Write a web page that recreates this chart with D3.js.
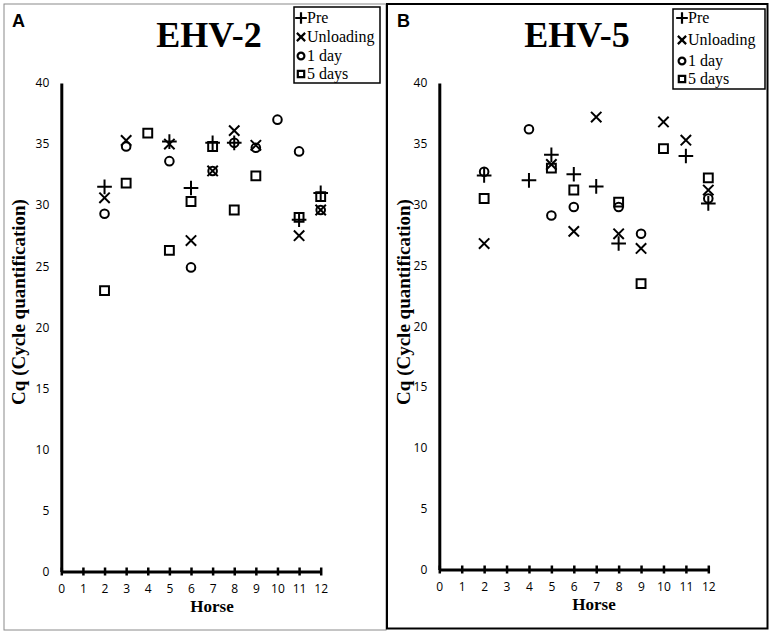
<!DOCTYPE html>
<html>
<head>
<meta charset="utf-8">
<script src="https://cdn.jsdelivr.net/npm/d3@7"></script>
<style>
  body { margin: 0; background: #fff; }
  svg { display: block; }
</style>
</head>
<body>
<svg id="chart"></svg>
<script>
let w = 772
let h = 635

let seriesNames = ['Pre', 'Unloading', '1 day', '5 days']
let xTicks = [0, 1, 2, 3, 4, 5, 6, 7, 8, 9, 10, 11, 12]
let yTicks = [0, 5, 10, 15, 20, 25, 30, 35, 40]

// EHV-2 : horse number + Cq value per time point
let ehv2PreHorse = [2, 5, 6, 7, 8, 11, 12]
let ehv2PreCq = [31.5, 35.2, 31.4, 35.1, 35.1, 28.8, 31.0]
let ehv2UnlHorse = [2, 3, 5, 6, 7, 8, 9, 11, 12]
let ehv2UnlCq = [30.6, 35.3, 35.0, 27.1, 32.8, 36.1, 34.9, 27.5, 29.6]
let ehv2Day1Horse = [2, 3, 5, 6, 7, 8, 9, 10, 11, 12]
let ehv2Day1Cq = [29.3, 34.8, 33.6, 24.9, 32.8, 35.1, 34.7, 37.0, 34.4, 29.6]
let ehv2Day5Horse = [2, 3, 4, 5, 6, 7, 8, 9, 11, 12]
let ehv2Day5Cq = [23.0, 31.8, 35.9, 26.3, 30.3, 34.8, 29.6, 32.4, 29.0, 30.7]

// EHV-5
let ehv5PreHorse = [2, 4, 5, 6, 7, 8, 11, 12]
let ehv5PreCq = [32.4, 32.0, 34.1, 32.5, 31.5, 26.8, 34.0, 30.1]
let ehv5UnlHorse = [2, 5, 6, 7, 8, 9, 10, 11, 12]
let ehv5UnlCq = [26.8, 33.3, 27.8, 37.2, 27.6, 26.4, 36.8, 35.3, 31.2]
let ehv5Day1Horse = [2, 4, 5, 6, 8, 9, 12]
let ehv5Day1Cq = [32.7, 36.2, 29.1, 29.8, 29.8, 27.6, 30.5]
let ehv5Day5Horse = [2, 5, 6, 8, 9, 10, 12]
let ehv5Day5Cq = [30.5, 33.0, 31.2, 30.2, 23.5, 34.6, 32.2]

let symbols = [d3.symbolPlus, d3.symbolTimes, d3.symbolCircle, d3.symbolSquare2]
let markSizes = [72, 72, 58, 100]
let legendSizes = [46, 46, 36, 52]

let zip = (xs, ys) => xs.map((x, i) => ({ horse: x, cq: ys[i] }))

let panels = [
  {
    letter: 'A', title: 'EHV-2',
    frame: { x: 4, y: 4, w: 382, h: 626, color: '#8a8a8a', sw: 1 },
    x0: 61.3, x1: 320.7, yTop: 83, yBottom: 571.5,
    titleX: 209, letterX: 12, yLabelX: 25, yLabelY: 302, horseX: 212,
    legend: { x: 294, y: 7, w: 86, h: 76, rows: [23, 42, 61, 79], symX: 301, textX: 307 },
    series: [zip(ehv2PreHorse, ehv2PreCq), zip(ehv2UnlHorse, ehv2UnlCq),
             zip(ehv2Day1Horse, ehv2Day1Cq), zip(ehv2Day5Horse, ehv2Day5Cq)]
  },
  {
    letter: 'B', title: 'EHV-5',
    frame: { x: 387, y: 4, w: 380.5, h: 624.5, color: '#000', sw: 2 },
    x0: 439.3, x1: 708.3, yTop: 83, yBottom: 569.5,
    titleX: 577, letterX: 397, yLabelX: 410, yLabelY: 302, horseX: 594,
    legend: { x: 673, y: 9, w: 92, h: 80, rows: [23, 45, 66, 84], symX: 682, textX: 688 },
    series: [zip(ehv5PreHorse, ehv5PreCq), zip(ehv5UnlHorse, ehv5UnlCq),
             zip(ehv5Day1Horse, ehv5Day1Cq), zip(ehv5Day5Horse, ehv5Day5Cq)]
  }
]

let svg = d3.select('#chart').attr('width', w).attr('height', h)

let drawPanel = (p) => {
  let g = svg.append('g')

  g.append('rect')
   .attr('x', p.frame.x).attr('y', p.frame.y)
   .attr('width', p.frame.w).attr('height', p.frame.h)
   .attr('fill', 'none').attr('stroke', p.frame.color).attr('stroke-width', p.frame.sw)

  let xScale = d3.scaleLinear().domain([0, 12]).range([p.x0, p.x1])
  let yScale = d3.scaleLinear().domain([0, 40]).range([p.yBottom, p.yTop])

  // y axis: plain thick line, labels only
  let yAxis = d3.axisLeft(yScale).tickValues(yTicks).tickSize(0).tickPadding(12)
  let ya = g.append('g')
            .attr('transform', 'translate(' + p.x0 + ',0)')
            .call(yAxis)
  ya.select('.domain').attr('stroke', '#000').attr('stroke-width', 3)
  ya.selectAll('text')
    .attr('font-family', "'Open Sans', sans-serif").attr('font-size', 12).attr('fill', '#000')

  // x axis with ticks crossing the line
  let xAxis = d3.axisBottom(xScale).tickValues(xTicks).tickSizeInner(4).tickSizeOuter(0).tickPadding(9)
  let xa = g.append('g')
            .attr('transform', 'translate(0,' + p.yBottom + ')')
            .call(xAxis)
  xa.select('.domain').attr('stroke', '#000').attr('stroke-width', 3)
  xa.selectAll('.tick line').attr('y1', -4).attr('stroke', '#000').attr('stroke-width', 2.5)
  xa.selectAll('text')
    .attr('font-family', "'Open Sans', sans-serif").attr('font-size', 12).attr('fill', '#000')

  p.series.forEach((s, i) => {
    g.selectAll('.mark' + i)
     .data(s)
     .enter()
     .append('path')
     .attr('class', 'mark' + i)
     .attr('d', d3.symbol().type(symbols[i]).size(markSizes[i]))
     .attr('transform', (d) => 'translate(' + xScale(d.horse) + ',' + yScale(d.cq) + ')')
     .attr('fill', 'none')
     .attr('stroke', '#000')
     .attr('stroke-width', 2)
  })

  g.append('text')
   .attr('x', p.titleX).attr('y', 47)
   .attr('text-anchor', 'middle')
   .attr('font-family', "'Liberation Serif', 'Times New Roman', serif")
   .attr('font-weight', 'bold').attr('font-size', 36)
   .text(p.title)

  g.append('text')
   .attr('x', p.letterX).attr('y', 27)
   .attr('font-family', "'Liberation Sans', Arial, sans-serif")
   .attr('font-weight', 'bold').attr('font-size', 18)
   .text(p.letter)

  g.append('text')
   .attr('transform', 'translate(' + p.yLabelX + ',' + p.yLabelY + ') rotate(-90)')
   .attr('text-anchor', 'middle')
   .attr('font-family', "'Liberation Serif', 'Times New Roman', serif")
   .attr('font-weight', 'bold').attr('font-size', 19)
   .text('Cq (Cycle quantification)')

  g.append('text')
   .attr('x', p.horseX).attr('y', p.yBottom + 40)
   .attr('text-anchor', 'middle')
   .attr('font-family', "'Liberation Serif', 'Times New Roman', serif")
   .attr('font-weight', 'bold').attr('font-size', 17)
   .text('Horse')

  let lg = g.append('g')
  lg.append('rect')
    .attr('x', p.legend.x).attr('y', p.legend.y)
    .attr('width', p.legend.w).attr('height', p.legend.h)
    .attr('fill', '#fff').attr('stroke', '#000').attr('stroke-width', 1.5)
  seriesNames.forEach((name, i) => {
    lg.append('path')
      .attr('d', d3.symbol().type(symbols[i]).size(legendSizes[i]))
      .attr('transform', 'translate(' + p.legend.symX + ',' + (p.legend.rows[i] - 5) + ')')
      .attr('fill', 'none').attr('stroke', '#000').attr('stroke-width', 2.2)
    lg.append('text')
      .attr('x', p.legend.textX).attr('y', p.legend.rows[i])
      .attr('font-family', "'Liberation Serif', 'Times New Roman', serif")
      .attr('font-size', 16)
      .text(name)
  })
}

panels.forEach(drawPanel)
</script>
</body>
</html>
